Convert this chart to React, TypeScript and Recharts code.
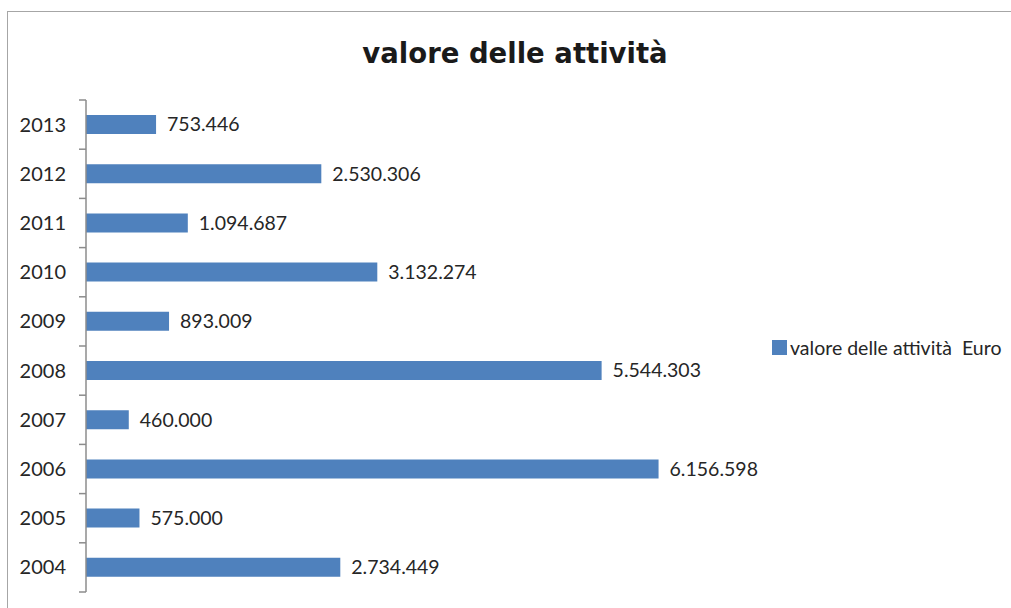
import { BarChart, Bar, XAxis, YAxis, LabelList } from "recharts";

const years = ["2004", "2005", "2006", "2007", "2008", "2009", "2010", "2011", "2012", "2013"];
const values = [2734449, 575000, 6156598, 460000, 5544303, 893009, 3132274, 1094687, 2530306, 753446];
const seriesName = "valore delle attività  Euro";
const title = "valore delle attività";

const data = years.map((year, i) => ({ year, value: values[i] }));

const FONT = "Lato, 'Open Sans', sans-serif";
const BLUE = "#4f81bd";
const AXIS = "#8c8c8c";
const HALF_BAND = 24.6;

const fmt = (v: any) => String(v).replace(/\B(?=(\d{3})+(?!\d))/g, ".");

function YearTick(props: any) {
  const { x, y, payload, index } = props;
  return (
    <g>
      <text x={x - 20} y={y} dy={7} textAnchor="end" fontSize={20} fill="#262626" fontFamily={FONT}>
        {payload.value}
      </text>
      <line x1={x - 7} x2={x} y1={y + HALF_BAND} y2={y + HALF_BAND} stroke={AXIS} strokeWidth={1.5} />
      {index === years.length - 1 && (
        <line x1={x - 7} x2={x} y1={y - HALF_BAND} y2={y - HALF_BAND} stroke={AXIS} strokeWidth={1.5} />
      )}
    </g>
  );
}

export default function App() {
  return (
    <div style={{ position: "absolute", left: 0, top: 0, width: 1011, height: 608, background: "#fff", overflow: "hidden" }}>
      <div
        style={{
          position: "absolute",
          left: 7,
          top: 11,
          width: 1100,
          height: 700,
          border: "1.5px solid #a6a6a6",
        }}
      />
      <svg width={1011} height={90} style={{ position: "absolute", left: 0, top: 0 }}>
        <text
          x={515}
          y={63}
          textAnchor="middle"
          fontFamily="'DejaVu Sans', sans-serif"
          fontWeight={700}
          fontSize={27.5}
          fill="#1a1a1a"
        >
          {title}
        </text>
      </svg>
      <div style={{ position: "absolute", left: 0, top: 0 }}>
        <BarChart
          width={1011}
          height={608}
          data={data}
          layout="vertical"
          margin={{ top: 100, right: 274, bottom: 16, left: 0 }}
        >
          <XAxis type="number" domain={[0, 7000000]} hide />
          <YAxis
            type="category"
            dataKey="year"
            reversed
            width={86}
            axisLine={{ stroke: AXIS, strokeWidth: 1.5 }}
            tickLine={false}
            tickSize={0}
            tickMargin={0}
            tick={<YearTick />}
            interval={0}
          />
          <Bar dataKey="value" name={seriesName} fill={BLUE} barSize={19} isAnimationActive={false}>
            <LabelList
              dataKey="value"
              position="right"
              offset={11}
              formatter={fmt}
              fill="#262626"
              fontSize={19.5}
              fontFamily={FONT}
            />
          </Bar>
        </BarChart>
      </div>
      <div
        style={{
          position: "absolute",
          left: 772,
          top: 336,
          display: "flex",
          alignItems: "center",
          fontFamily: FONT,
          fontSize: 19.5,
          color: "#262626",
        }}
      >
        <span style={{ width: 15, height: 15, background: BLUE, display: "inline-block", marginRight: 3 }} />
        <span style={{ whiteSpace: "pre" }}>{seriesName}</span>
      </div>
    </div>
  );
}
